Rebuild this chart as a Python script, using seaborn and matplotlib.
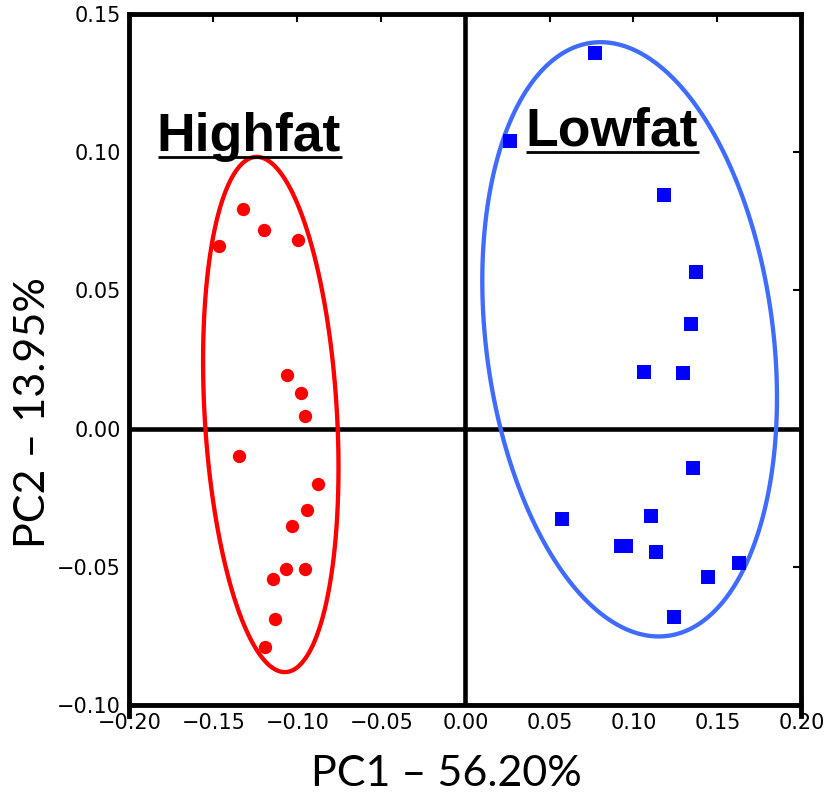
import numpy as np
import pandas as pd
import matplotlib
matplotlib.use("Agg")
import matplotlib.pyplot as plt
from matplotlib.patches import Polygon
import seaborn as sns
from matplotlib.ticker import MultipleLocator

# PCA scores per diet group
highfat_pc1 = [-0.1324, -0.1199, -0.1469, -0.0996, -0.1061, -0.0980, -0.0954, -0.1351,
               -0.0880, -0.0946, -0.1033, -0.1067, -0.0954, -0.1143, -0.1135, -0.1195]
highfat_pc2 = [0.0795, 0.0720, 0.0662, 0.0684, 0.0195, 0.0130, 0.0046, -0.0099,
               -0.0202, -0.0293, -0.0352, -0.0509, -0.0509, -0.0544, -0.0689, -0.0789]
lowfat_pc1 = [0.0770, 0.0263, 0.1182, 0.1371, 0.1341, 0.1065, 0.1295, 0.1357,
              0.0576, 0.1107, 0.0925, 0.0955, 0.1132, 0.1630, 0.1445, 0.1242]
lowfat_pc2 = [0.1358, 0.1039, 0.0846, 0.0568, 0.0379, 0.0205, 0.0200, -0.0142,
              -0.0328, -0.0315, -0.0426, -0.0423, -0.0445, -0.0487, -0.0538, -0.0683]

groups = ["Highfat", "Lowfat"]
# group ellipses: centre, half extent along PC1 / PC2, correlation
ellipse_center = [(-0.1159, 0.0051), (0.0977, 0.0323)]
ellipse_half = [(0.0403, 0.0932), (0.0877, 0.1075)]
ellipse_corr = [-0.207, -0.197]

x_label = "PC1 \u2013 56.20%"
y_label = "PC2 \u2013 13.95%"

point_color = {"Highfat": "#ff0000", "Lowfat": "#0000ff"}
ring_color = {"Highfat": "#ff0000", "Lowfat": "#3f6cff"}

df = pd.DataFrame({
    "PC1": highfat_pc1 + lowfat_pc1,
    "PC2": highfat_pc2 + lowfat_pc2,
    "group": ["Highfat"] * len(highfat_pc1) + ["Lowfat"] * len(lowfat_pc1),
})

sns.set_style("white")
plt.rcParams["font.family"] = ["DejaVu Sans"]
plt.rcParams["text.color"] = "black"
plt.rcParams["axes.labelcolor"] = "black"

fig = plt.figure(figsize=(8.29, 7.93), dpi=100)
ax = fig.add_axes([129.5 / 829, 88 / 793, 672 / 829, 691 / 793])
ax.set_xlim(-0.2, 0.2)
ax.set_ylim(-0.10, 0.15)

# zero reference lines
ax.axhline(0, color="black", lw=3.3, zorder=1)
ax.axvline(0, color="black", lw=3.3, zorder=1)

# group ellipses
t = np.linspace(0, 2 * np.pi, 400, endpoint=False)
for g, (cx, cy), (hw, hh), r in zip(groups, ellipse_center, ellipse_half, ellipse_corr):
    ex = cx + hw * np.cos(t)
    ey = cy + hh * (r * np.cos(t) + np.sqrt(1 - r * r) * np.sin(t))
    ax.add_patch(Polygon(np.column_stack([ex, ey]), closed=True, fill=False,
                         edgecolor=ring_color[g], lw=3.1, zorder=2))

sns.scatterplot(data=df[df.group == "Highfat"], x="PC1", y="PC2", color=point_color["Highfat"],
                marker="o", s=92, linewidth=0, legend=False, zorder=3, ax=ax)
sns.scatterplot(data=df[df.group == "Lowfat"], x="PC1", y="PC2", color=point_color["Lowfat"],
                marker="s", s=100, linewidth=0, legend=False, zorder=3, ax=ax)

# axes frame and ticks
for side in ["left", "right", "top", "bottom"]:
    ax.spines[side].set_visible(True)
    ax.spines[side].set_linewidth(3.5)
    ax.spines[side].set_color("black")
ax.spines["left"].set_bounds(-0.104, 0.15)
ax.spines["right"].set_bounds(-0.104, 0.15)

ax.xaxis.set_major_locator(MultipleLocator(0.05))
ax.yaxis.set_major_locator(MultipleLocator(0.05))
ax.tick_params(direction="in", length=6, width=1.5, top=True, right=True,
               labelsize=15, pad=6, colors="black")

ax.set_xlabel(x_label, fontsize=31, family=["Lato", "DejaVu Sans"], color="black")
ax.set_ylabel(y_label, fontsize=31, family=["Lato", "DejaVu Sans"], color="black")
ax.xaxis.set_label_coords(0.472, -0.1165)
ax.xaxis.label.set_va("baseline")
ax.yaxis.set_label_coords((45 - 129.5) / 672, 0.4233)
ax.yaxis.label.set_rotation_mode("anchor")
ax.yaxis.label.set_va("baseline")
ax.yaxis.label.set_ha("center")

# group names, underlined
names = [
    ax.text(-0.1839, 0.1005, "Highfat", fontsize=38.5, fontweight="bold", color="black",
            family=["Liberation Sans", "DejaVu Sans"], va="baseline", ha="left", zorder=4),
    ax.text(0.0357, 0.1023, "Lowfat", fontsize=38.5, fontweight="bold", color="black",
            family=["Liberation Sans", "DejaVu Sans"], va="baseline", ha="left", zorder=4),
]
fig.canvas.draw()
renderer = fig.canvas.get_renderer()
inv = ax.transData.inverted()
for txt in names:
    bb = txt.get_window_extent(renderer)
    base = ax.transData.transform(txt.get_position())[1]
    yline = base - 6.3
    (x0, y0), (x1, _) = inv.transform([(bb.x0 + 1, yline), (bb.x1 + 1, yline)])
    ax.plot([x0, x1], [y0, y0], color="black", lw=2.0, zorder=4, solid_capstyle="butt")

fig.savefig("out.png", dpi=100)
